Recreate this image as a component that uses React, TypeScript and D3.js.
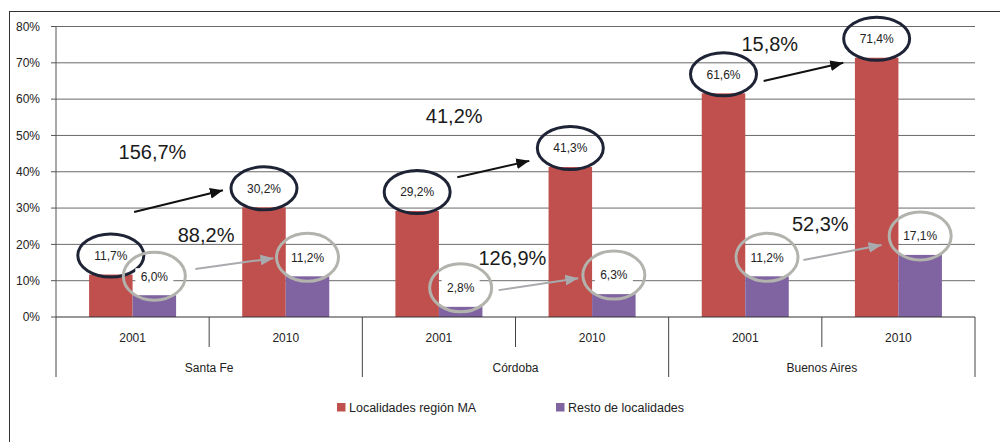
import React from 'react';
import * as d3 from 'd3';

const regions = ['Santa Fe', 'Córdoba', 'Buenos Aires'];
const years = ['2001', '2010'];
const seriesNames = ['Localidades región MA', 'Resto de localidades'];
// one value per region/year, in the order Santa Fe 2001, Santa Fe 2010, Córdoba 2001 ...
const regionMA = [11.7, 30.2, 29.2, 41.3, 61.6, 71.4];
const restoLocalidades = [6.0, 11.2, 2.8, 6.3, 11.2, 17.1];
const valueLabels = [
  ['11,7%', '30,2%', '29,2%', '41,3%', '61,6%', '71,4%'],
  ['6,0%', '11,2%', '2,8%', '6,3%', '11,2%', '17,1%'],
];
const growthLabels = ['156,7%', '88,2%', '41,2%', '126,9%', '15,8%', '52,3%'];
const yTicks = [0, 10, 20, 30, 40, 50, 60, 70, 80];

const W = 1000;
const H = 442;
const FONT = '"Liberation Sans", Arial, sans-serif';
const colors = ['#c0504d', '#8064a2'];
const ringColors = ['#1e2436', '#b3b3ae'];

// growth notes placed in chart units: x in category slots (0..6), y in percent
const noteLayout = [
  { series: 0, from: [0.51, 28.9], to: [1.09, 34.9], text: [0.63, 43.5] },
  { series: 1, from: [0.91, 13.2], to: [1.42, 16.2], text: [0.98, 20.6] },
  { series: 0, from: [2.62, 38.5], to: [3.09, 43.0], text: [2.6, 53.4] },
  { series: 1, from: [2.89, 7.4], to: [3.41, 10.7], text: [2.98, 14.3] },
  { series: 0, from: [4.62, 65.0], to: [5.14, 70.0], text: [4.66, 73.2] },
  { series: 1, from: [4.88, 15.7], to: [5.39, 19.8], text: [4.99, 23.7] },
];

export default function App() {
  const left = 56;
  const right = 975;
  const top = 26.5;
  const bottom = 317;

  const cats = d3.range(regionMA.length);
  const x = d3.scaleBand<number>().domain(cats).range([left, right]).padding(0);
  const xs = d3
    .scaleBand<number>()
    .domain([0, 1])
    .range([0, x.bandwidth()])
    .paddingInner(0)
    .paddingOuter(0.76);
  const xc = d3.scaleLinear().domain([0, 6]).range([left, right]);
  const y = d3.scaleLinear().domain([0, 80]).range([bottom, top]);

  const series = [regionMA, restoLocalidades];
  const bw = x.bandwidth();

  return (
    <svg
      width={W}
      height={H}
      style={{ position: 'absolute', left: 0, top: 0, background: '#fff' }}
      fontFamily={FONT}
    >
      <defs>
        {ringColors.map((c, i) => (
          <marker
            key={i}
            id={`head${i}`}
            viewBox="0 0 12 10"
            refX={12}
            refY={5}
            markerWidth={13}
            markerHeight={11}
            markerUnits="userSpaceOnUse"
            orient="auto"
          >
            <path d="M0,0 L12,5 L0,10 Z" fill={i === 0 ? '#111' : '#a8aaad'} />
          </marker>
        ))}
      </defs>

      {/* outer frame */}
      <rect x={9.5} y={11.5} width={1100} height={600} fill="none" stroke="#333" strokeWidth={1} />

      {/* grid */}
      {yTicks.map((t) => (
        <g key={t}>
          {t > 0 && (
            <line x1={left} x2={right} y1={y(t)} y2={y(t)} stroke="#6a6a6a" strokeWidth={1} />
          )}
          <line x1={left - 5} x2={left} y1={y(t)} y2={y(t)} stroke="#555" />
          <text
            x={40}
            y={y(t)}
            dy="0.35em"
            textAnchor="end"
            fontSize={12}
            fill="#222"
          >
            {t}%
          </text>
        </g>
      ))}
      <line x1={left} x2={left} y1={top} y2={bottom} stroke="#555" />

      {/* bars */}
      {series.map((vals, s) =>
        vals.map((v, i) => (
          <rect
            key={`${s}-${i}`}
            x={(x(i) ?? 0) + (xs(s) ?? 0)}
            y={y(v)}
            width={xs.bandwidth()}
            height={bottom - y(v)}
            fill={colors[s]}
          />
        ))
      )}

      {/* category axis */}
      <line x1={left} x2={right} y1={bottom} y2={bottom} stroke="#333" strokeWidth={1.2} />
      {d3.range(cats.length + 1).map((k) => (
        <line
          key={k}
          x1={xc(k)}
          x2={xc(k)}
          y1={bottom}
          y2={k % 2 === 0 ? 377 : 347}
          stroke="#444"
        />
      ))}
      {cats.map((i) => (
        <text
          key={i}
          x={(x(i) ?? 0) + bw / 2}
          y={342}
          textAnchor="middle"
          fontSize={12}
          fill="#222"
        >
          {years[i % 2]}
        </text>
      ))}
      {regions.map((r, g) => (
        <text
          key={r}
          x={xc(g * 2 + 1)}
          y={372}
          textAnchor="middle"
          fontSize={12}
          fill="#222"
        >
          {r}
        </text>
      ))}

      {/* value rings */}
      {series.map((vals, s) =>
        vals.map((v, i) => {
          const cx = (x(i) ?? 0) + (xs(s) ?? 0) + xs.bandwidth() / 2;
          const cy = y(v) - 19;
          const label = valueLabels[s][i];
          return (
            <g key={`r${s}-${i}`}>
              <rect x={cx - 19} y={cy - 8} width={38} height={16} fill="#fff" />
              <ellipse
                cx={cx}
                cy={cy}
                rx={s === 0 ? 33 : 31}
                ry={s === 0 ? 21.5 : 24}
                fill="none"
                stroke={ringColors[s]}
                strokeWidth={3}
              />
              <text x={cx} y={cy} dy="0.36em" textAnchor="middle" fontSize={12} fill="#222">
                {label}
              </text>
            </g>
          );
        })
      )}

      {/* growth arrows and labels */}
      {noteLayout.map((n, k) => (
        <g key={`n${k}`}>
          <line
            x1={xc(n.from[0])}
            y1={y(n.from[1])}
            x2={xc(n.to[0])}
            y2={y(n.to[1])}
            stroke={n.series === 0 ? '#111' : '#a8aaad'}
            strokeWidth={2}
            markerEnd={`url(#head${n.series})`}
          />
          <text
            x={xc(n.text[0])}
            y={y(n.text[1])}
            textAnchor="middle"
            fontSize={20}
            fill="#1a1a1a"
          >
            {growthLabels[k]}
          </text>
        </g>
      ))}

      {/* legend */}
      {seriesNames.map((name, s) => {
        const lx = s === 0 ? 337 : 556;
        return (
          <g key={name}>
            <rect x={lx} y={403} width={8.5} height={8.5} fill={colors[s]} />
            <text x={lx + 12} y={412} fontSize={12.5} fill="#222">
              {name}
            </text>
          </g>
        );
      })}
    </svg>
  );
}
